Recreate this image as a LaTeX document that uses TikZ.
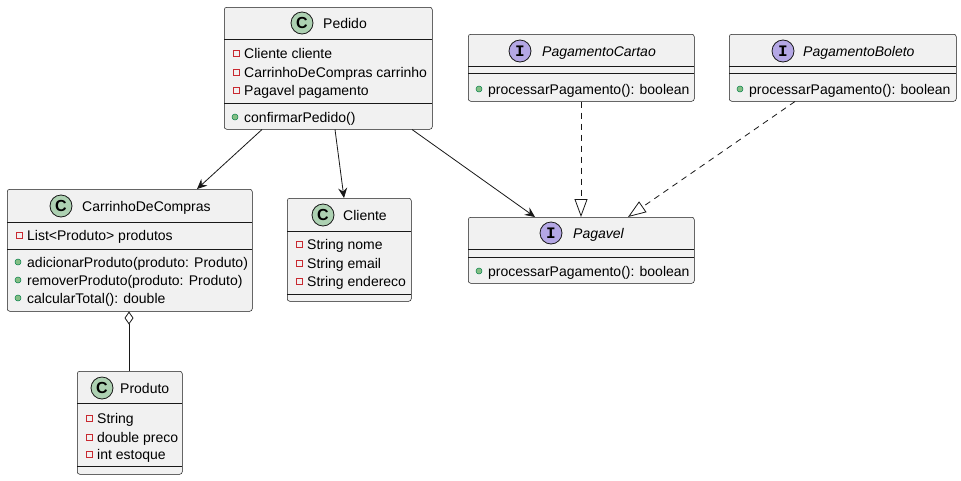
\documentclass[tikz,border=0pt]{standalone}
\usepackage{fontspec}
\setmainfont{Liberation Sans}
\newfontfamily\monoicon{Liberation Mono}
\usetikzlibrary{arrows.meta,shapes.geometric}
\definecolor{boxfill}{HTML}{F1F1F1}
\definecolor{boxline}{HTML}{181818}
\definecolor{cfill}{HTML}{ADD1B2}
\definecolor{ifill}{HTML}{B4A7E5}
\definecolor{privred}{HTML}{C82930}
\definecolor{pubfill}{HTML}{84BE84}
\definecolor{pubedge}{HTML}{038048}
\tikzset{
 umlbox/.style={draw=boxline, line width=0.5pt, fill=boxfill, rounded corners=2.5pt, anchor=north west, inner sep=0pt},
 sepline/.style={draw=boxline, line width=0.5pt},
 mem/.style={anchor=west, inner sep=0pt, font=\fontsize{14}{16}\selectfont, text height=13pt, text depth=2pt},
 ittl/.style={mem, font=\fontsize{14}{16}\selectfont\itshape},
 cicon/.style={circle, draw=boxline, line width=0.8pt, fill=cfill, minimum size=22pt, inner sep=0pt, font=\fontsize{16}{16}\selectfont\bfseries},
 iicon/.style={cicon, fill=ifill, font=\monoicon\fontsize{16}{16}\selectfont\bfseries},
 priv/.style={rectangle, draw=privred, line width=0.8pt, minimum size=6pt, inner sep=0pt},
 pub/.style={circle, draw=pubedge, line width=0.5pt, fill=pubfill, minimum size=6pt, inner sep=0pt},
 assoc/.style={draw=boxline, line width=0.8pt, -{Stealth[length=10pt,width=9pt,inset=3.5pt]}},
 realiz/.style={draw=boxline, line width=0.8pt, dash pattern=on 6pt off 5pt, -{Triangle[open,length=18pt,width=13pt,fill=white]}},
 aggr/.style={draw=boxline, line width=0.8pt, {Diamond[open,length=13pt,width=9pt,fill=white]}-},
}
\newcommand{\privattr}[4]{\node[priv] (#1m) at ({#2+12},#3) {}; \node[mem] (#1t) at ({#2+20},#3) {#4};}
\newcommand{\pubmeth}[4]{\node[pub] (#1m) at ({#2+11},#3) {}; \node[mem] (#1t) at ({#2+20},#3) {#4};}
\begin{document}
\begin{tikzpicture}[x=1pt,y=-1pt]
\useasboundingbox (0,0) rectangle (961,480);
\fill[white] (0,0) rectangle (961,480);

% Pedido
\node[umlbox, minimum width=208pt, minimum height=122pt] (ped) at (224,7) {};
\node[cicon] (pedi) at (302,23) {C};
\node[mem] (pedn) at (323,23) {Pedido};
\draw[sepline] (224,39) -- (432,39);
\draw[sepline] (224,103) -- (432,103);
\privattr{peda}{224}{53}{Cliente cliente}
\privattr{pedb}{224}{72}{CarrinhoDeCompras carrinho}
\privattr{pedc}{224}{90}{Pagavel pagamento}
\pubmeth{pedd}{224}{117}{confirmarPedido()}

% CarrinhoDeCompras
\node[umlbox, minimum width=245pt, minimum height=122pt] (car) at (7,189) {};
\node[cicon] (cari) at (61,206) {C};
\node[mem] (carn) at (82,206) {CarrinhoDeCompras};
\draw[sepline] (7,222) -- (252,222);
\draw[sepline] (7,249) -- (252,249);
\privattr{cara}{7}{235}{List<Produto> produtos}
\pubmeth{carb}{7}{262}{adicionarProduto(produto: Produto)}
\pubmeth{carc}{7}{280}{removerProduto(produto: Produto)}
\pubmeth{card}{7}{298}{calcularTotal(): double}

% Cliente
\node[umlbox, minimum width=124pt, minimum height=103pt] (cli) at (287,198) {};
\node[cicon] (clii) at (323,215) {C};
\node[mem] (clin) at (343,215) {Cliente};
\draw[sepline] (287,231) -- (411,231);
\draw[sepline] (287,294) -- (411,294);
\privattr{clia}{287}{244}{String nome}
\privattr{clib}{287}{263}{String email}
\privattr{clic}{287}{281}{String endereco}

% Produto
\node[umlbox, minimum width=105pt, minimum height=103pt] (pro) at (77,371) {};
\node[cicon] (proi) at (102,388) {C};
\node[mem] (pron) at (120,388) {Produto};
\draw[sepline] (77,403) -- (182,403);
\draw[sepline] (77,466) -- (182,466);
\privattr{proa}{77}{418}{String}
\privattr{prob}{77}{437}{double preco}
\privattr{proc}{77}{454}{int estoque}

% PagamentoCartao
\node[umlbox, minimum width=226pt, minimum height=67pt] (cart) at (468,34) {};
\node[iicon] (carti) at (520,51) {I};
\node[ittl] (cartn) at (542,51) {PagamentoCartao};
\draw[sepline] (468,66) -- (694,66);
\draw[sepline] (468,73) -- (694,73);
\pubmeth{carta}{468}{89}{processarPagamento(): boolean}

% PagamentoBoleto
\node[umlbox, minimum width=227pt, minimum height=67pt] (bol) at (729,34) {};
\node[iicon] (boli) at (783,51) {I};
\node[ittl] (boln) at (803,51) {PagamentoBoleto};
\draw[sepline] (729,66) -- (956,66);
\draw[sepline] (729,73) -- (956,73);
\pubmeth{bola}{729}{89}{processarPagamento(): boolean}

% Pagavel
\node[umlbox, minimum width=226pt, minimum height=66pt] (pag) at (468,217) {};
\node[iicon] (pagi) at (551,233) {I};
\node[ittl] (pagn) at (573,233) {Pagavel};
\draw[sepline] (468,249) -- (694,249);
\draw[sepline] (468,257) -- (694,257);
\pubmeth{paga}{468}{271}{processarPagamento(): boolean}

% connectors
\draw[assoc] ([xshift=38pt]ped.south west) -- ([xshift=190pt]car.north west);
\draw[assoc] ([xshift=111pt]ped.south west) -- ([xshift=57pt]cli.north west);
\draw[assoc] ([xshift=188pt]ped.south west) -- ([xshift=67pt]pag.north west);
\draw[realiz] ([xshift=113pt]cart.south west) -- ([xshift=113pt]pag.north west);
\draw[realiz] ([xshift=66pt]bol.south west) -- ([xshift=160pt]pag.north west);
\draw[aggr] ([xshift=122pt]car.south west) -- ([xshift=52pt]pro.north west);
\end{tikzpicture}
\end{document}
